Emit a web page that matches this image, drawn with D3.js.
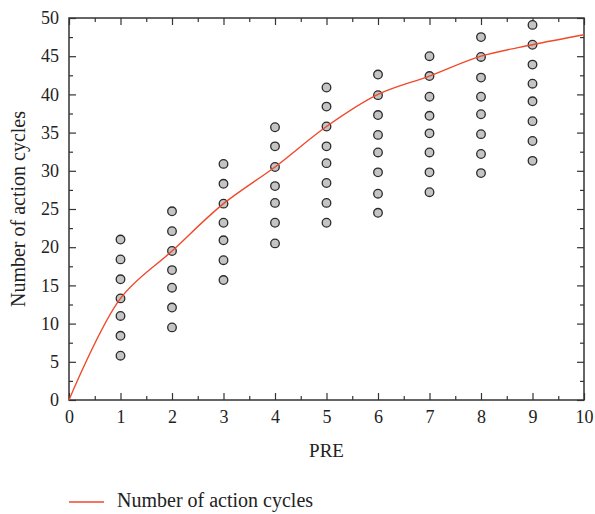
<!DOCTYPE html>
<html>
<head>
<meta charset="utf-8">
<script src="https://cdn.jsdelivr.net/npm/d3@7"></script>
<style>
  body { margin: 0; background: #fff; }
  svg text { font-family: "Liberation Serif", "DejaVu Serif", serif; fill: #222; }
</style>
</head>
<body>
<div id="chart"></div>
<script>
// scatter columns: PRE value -> observed action cycles
const preLevels = [1, 2, 3, 4, 5, 6, 7, 8, 9];
const cycleValues = [
  [21.0, 18.4, 15.8, 13.3, 11.0, 8.4, 5.8],
  [24.7, 22.1, 19.5, 17.0, 14.7, 12.1, 9.5],
  [30.9, 28.3, 25.7, 23.2, 20.9, 18.3, 15.7],
  [35.7, 33.2, 30.5, 28.0, 25.8, 23.2, 20.5],
  [40.9, 38.4, 35.8, 33.2, 31.0, 28.4, 25.8, 23.2],
  [42.6, 39.9, 37.3, 34.7, 32.4, 29.8, 27.0, 24.5],
  [45.0, 42.4, 39.7, 37.2, 34.9, 32.4, 29.8, 27.2],
  [47.5, 44.9, 42.2, 39.7, 37.4, 34.8, 32.2, 29.7],
  [49.1, 46.5, 43.9, 41.4, 39.1, 36.5, 33.9, 31.3]
];
// fitted curve
const curveX = [0, 1, 2, 3, 4, 5, 6, 7, 8, 9, 10];
const curveY = [0, 13.3, 19.5, 25.7, 30.5, 35.8, 40.0, 42.4, 45.0, 46.5, 47.8];
const xTicks = d3.range(0, 11, 1);
const yTicks = d3.range(0, 51, 5);
const seriesName = "Number of action cycles";

const width = 595, height = 514;
const margin = { top: 18, right: 11, bottom: 114, left: 69 };
const plotW = width - margin.left - margin.right;
const plotH = height - margin.top - margin.bottom;
const serif = "'Liberation Serif', 'DejaVu Serif', serif";

const svg = d3.select("#chart").append("svg")
  .attr("width", width)
  .attr("height", height);

const g = svg.append("g")
  .attr("transform", "translate(" + margin.left + "," + margin.top + ")");

const x = d3.scaleLinear().domain([0, 10]).range([0, plotW]);
const y = d3.scaleLinear().domain([0, 50]).range([plotH, 0]);

// inward ticks on all four sides
const xMinor = d3.range(0.5, 10, 1);
const yMinor = d3.range(2.5, 50, 5);
const axisColor = "#333";

function styleAxis(sel) {
  sel.attr("font-family", serif).attr("font-size", 18);
  sel.select(".domain").remove();
  sel.selectAll("line").attr("stroke", axisColor).attr("stroke-width", 1.2);
  sel.selectAll("text").attr("fill", "#222");
}

g.append("g").attr("transform", "translate(0," + plotH + ")")
  .call(d3.axisBottom(x).tickValues(xTicks).tickSize(-7).tickPadding(10).tickFormat(d3.format("d")))
  .call(styleAxis);
g.append("g").attr("transform", "translate(0," + plotH + ")")
  .call(d3.axisBottom(x).tickValues(xMinor).tickSize(-4).tickFormat(""))
  .call(styleAxis);
g.append("g")
  .call(d3.axisTop(x).tickValues(xTicks).tickSize(-7).tickFormat(""))
  .call(styleAxis);
g.append("g")
  .call(d3.axisTop(x).tickValues(xMinor).tickSize(-4).tickFormat(""))
  .call(styleAxis);

g.append("g")
  .call(d3.axisLeft(y).tickValues(yTicks).tickSize(-7).tickPadding(10).tickFormat(d3.format("d")))
  .call(styleAxis);
g.append("g")
  .call(d3.axisLeft(y).tickValues(yMinor).tickSize(-4).tickFormat(""))
  .call(styleAxis);
g.append("g").attr("transform", "translate(" + plotW + ",0)")
  .call(d3.axisRight(y).tickValues(yTicks).tickSize(-7).tickFormat(""))
  .call(styleAxis);
g.append("g").attr("transform", "translate(" + plotW + ",0)")
  .call(d3.axisRight(y).tickValues(yMinor).tickSize(-4).tickFormat(""))
  .call(styleAxis);

// frame
g.append("rect")
  .attr("width", plotW)
  .attr("height", plotH)
  .attr("fill", "none")
  .attr("stroke", axisColor)
  .attr("stroke-width", 1.5);

// scatter points
const points = [];
preLevels.forEach(function (p, i) {
  cycleValues[i].forEach(function (v) { points.push({ x: p, y: v }); });
});

g.selectAll("circle.pt")
  .data(points)
  .enter()
  .append("circle")
  .attr("class", "pt")
  .attr("cx", function (d) { return x(d.x); })
  .attr("cy", function (d) { return y(d.y); })
  .attr("r", 4.3)
  .attr("fill", "#c4c4c4")
  .attr("stroke", "#2b2b2b")
  .attr("stroke-width", 1.3);

// fitted line
const line = d3.line()
  .x(function (d) { return x(d[0]); })
  .y(function (d) { return y(d[1]); })
  .curve(d3.curveCatmullRom.alpha(0.5));

g.append("path")
  .datum(d3.zip(curveX, curveY))
  .attr("d", line)
  .attr("fill", "none")
  .attr("stroke", "#f0492b")
  .attr("stroke-width", 1.4);

// axis titles
svg.append("text")
  .attr("x", margin.left + plotW / 2)
  .attr("y", 457)
  .attr("text-anchor", "middle")
  .attr("font-size", 19)
  .text("PRE");

svg.append("text")
  .attr("transform", "translate(25," + (margin.top + plotH / 2) + ") rotate(-90)")
  .attr("text-anchor", "middle")
  .attr("font-size", 20)
  .text("Number of action cycles");

// legend
const legend = svg.append("g").attr("transform", "translate(69,502)");
legend.append("line")
  .attr("x1", 0).attr("x2", 35)
  .attr("stroke", "#f0492b")
  .attr("stroke-width", 1.4);
legend.append("text")
  .attr("x", 48)
  .attr("y", 5)
  .attr("font-size", 20)
  .text(seriesName);
</script>
</body>
</html>
